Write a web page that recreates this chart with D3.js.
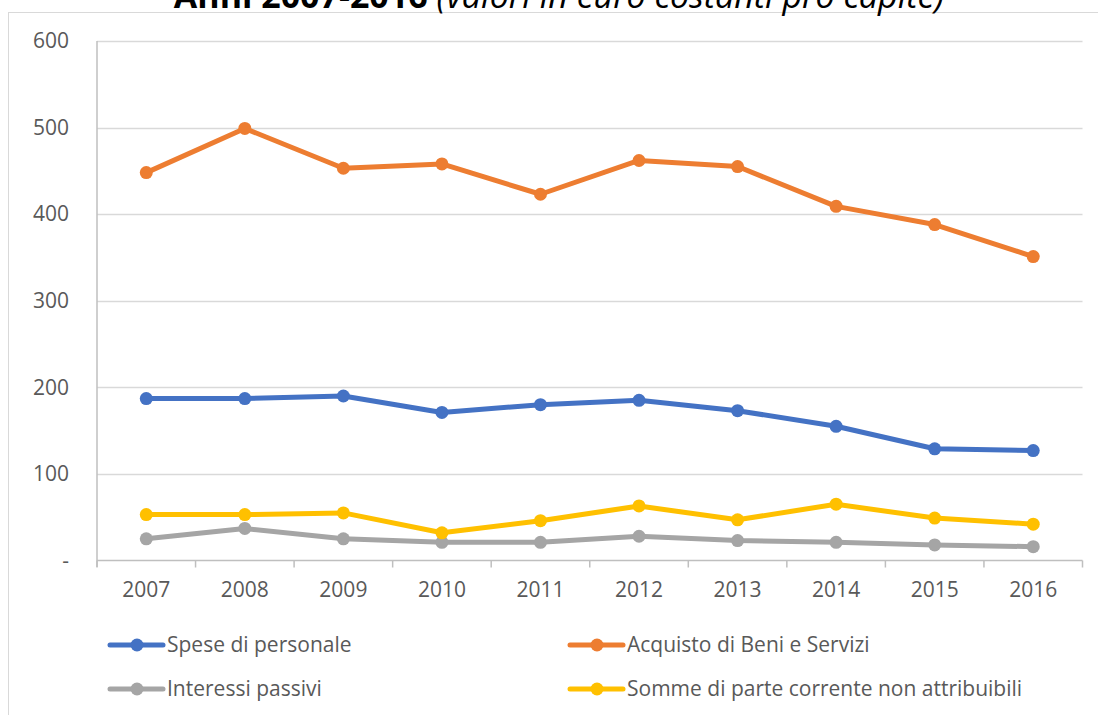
<!DOCTYPE html>
<html>
<head>
<meta charset="utf-8">
<script src="https://cdn.jsdelivr.net/npm/d3@7"></script>
<style>
  body { margin: 0; background: #fff; }
  svg { display: block; font-family: "Open Sans", sans-serif; }
</style>
</head>
<body>
<div id="chart"></div>
<script>
const years = ["2007", "2008", "2009", "2010", "2011", "2012", "2013", "2014", "2015", "2016"];
const yTicks = [0, 100, 200, 300, 400, 500, 600];

const spesePersonale = [187, 187, 190, 171, 180, 185, 173, 155, 129, 127];
const acquistoBeni = [448, 499, 453, 458, 423, 462, 455, 409, 388, 351];
const interessiPassivi = [25, 37, 25, 21, 21, 28, 23, 21, 18, 16];
const sommeParteCorrente = [53, 53, 55, 32, 46, 63, 47, 65, 49, 42];

const seriesNames = ["Spese di personale", "Acquisto di Beni e Servizi", "Interessi passivi", "Somme di parte corrente non attribuibili"];
const seriesValues = [spesePersonale, acquistoBeni, interessiPassivi, sommeParteCorrente];
const seriesColors = ["#4472C4", "#ED7D31", "#A5A5A5", "#FFC000"];

const W = 1098, H = 715;
const svg = d3.select("#chart").append("svg")
    .attr("width", W)
    .attr("height", H);

// chart frame
svg.append("rect")
    .attr("x", 8.5).attr("y", 12.5)
    .attr("width", W + 20).attr("height", H + 20)
    .attr("fill", "none")
    .attr("stroke", "#d9d9d9");

// title (its top is cut off in the source picture)
const title = svg.append("text")
    .attr("x", 559).attr("y", 8)
    .attr("text-anchor", "middle")
    .attr("font-size", 34)
    .attr("fill", "#000");
title.append("tspan").attr("font-weight", "bold").text("Anni 2007-2016");
title.append("tspan").attr("font-style", "italic").text(" (valori in euro costanti pro capite)");

const x = d3.scaleBand()
    .domain(years)
    .range([97, 1082.5])
    .padding(0);

const y = d3.scaleLinear()
    .domain([0, 600])
    .range([560.5, 41]);

// gridlines
svg.append("g")
    .selectAll("line")
    .data(yTicks.filter(d => d > 0))
    .enter().append("line")
    .attr("x1", 97).attr("x2", 1082.5)
    .attr("y1", d => Math.round(y(d)) + 0.5)
    .attr("y2", d => Math.round(y(d)) + 0.5)
    .attr("stroke", "#d9d9d9")
    .attr("stroke-width", 1.5);

// y axis
const yAxis = svg.append("g")
    .attr("transform", "translate(97,0)")
    .call(d3.axisLeft(y).tickValues(yTicks).tickSize(0).tickPadding(28)
        .tickFormat(d => d === 0 ? "-" : d));
yAxis.select(".domain").attr("stroke", "#bfbfbf").attr("stroke-width", 1.5)
    .attr("d", `M0,${y(600)}V567`);
yAxis.selectAll("text").attr("font-size", 21).attr("fill", "#595959")
    .attr("font-family", "Open Sans, sans-serif");

// x axis
const xAxis = svg.append("g")
    .attr("transform", `translate(0,${y(0)})`)
    .call(d3.axisBottom(x).tickSize(0).tickPadding(22));
xAxis.select(".domain").attr("stroke", "#bfbfbf").attr("stroke-width", 1.5)
    .attr("d", `M97,0H1082.5`);
xAxis.selectAll("text").attr("font-size", 21).attr("fill", "#595959")
    .attr("font-family", "Open Sans, sans-serif");

const bounds = years.map(d => x(d)).concat([x(years[years.length - 1]) + x.bandwidth()]);
svg.append("g")
    .selectAll("line")
    .data(bounds)
    .enter().append("line")
    .attr("x1", d => d).attr("x2", d => d)
    .attr("y1", y(0)).attr("y2", y(0) + 7)
    .attr("stroke", "#bfbfbf")
    .attr("stroke-width", 1.5);

// series
const line = d3.line()
    .x((d, i) => x(years[i]) + x.bandwidth() / 2)
    .y(d => y(d));

seriesValues.forEach((vals, k) => {
    const g = svg.append("g");
    g.append("path")
        .datum(vals)
        .attr("fill", "none")
        .attr("stroke", seriesColors[k])
        .attr("stroke-width", 5)
        .attr("stroke-linejoin", "round")
        .attr("stroke-linecap", "round")
        .attr("d", line);
    g.selectAll("circle")
        .data(vals)
        .enter().append("circle")
        .attr("cx", (d, i) => x(years[i]) + x.bandwidth() / 2)
        .attr("cy", d => y(d))
        .attr("r", 6.5)
        .attr("fill", seriesColors[k]);
});

// legend
const legendX = [110, 570];
const legendY = [645, 689];
const legend = svg.append("g")
    .selectAll("g")
    .data(seriesNames)
    .enter().append("g")
    .attr("transform", (d, i) => `translate(${legendX[i % 2]},${legendY[Math.floor(i / 2)]})`);
legend.append("line")
    .attr("x1", 0).attr("x2", 53)
    .attr("stroke", (d, i) => seriesColors[i])
    .attr("stroke-width", 5)
    .attr("stroke-linecap", "round");
legend.append("circle")
    .attr("cx", 27).attr("r", 6.5)
    .attr("fill", (d, i) => seriesColors[i]);
legend.append("text")
    .attr("x", 57).attr("dy", "0.35em")
    .attr("font-size", 21)
    .attr("fill", "#595959")
    .text(d => d);
</script>
</body>
</html>
